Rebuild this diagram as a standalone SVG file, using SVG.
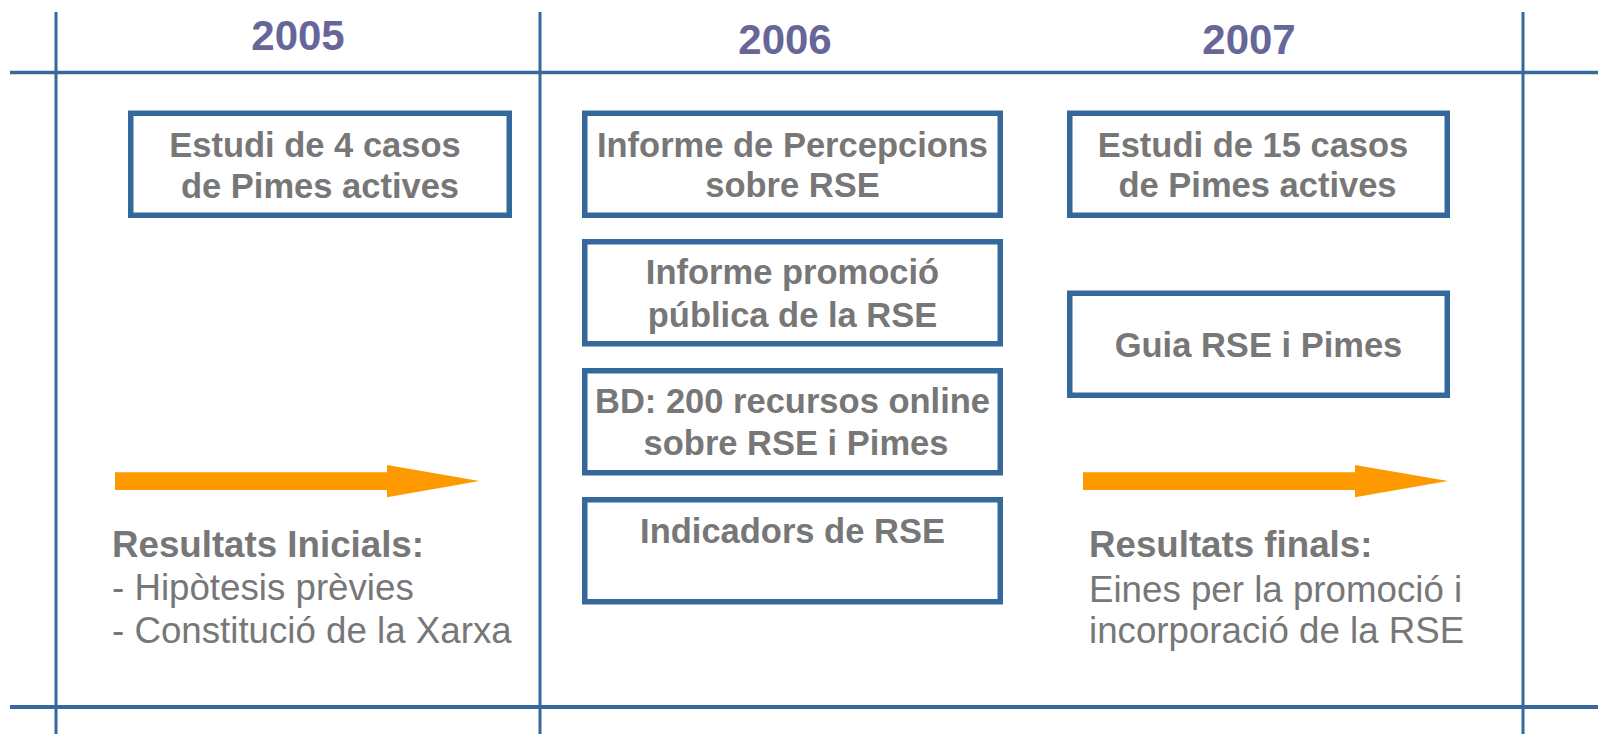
<svg xmlns="http://www.w3.org/2000/svg" width="1598" height="734" viewBox="0 0 1598 734">
<style>
.ln{stroke:#36699b;fill:none}
.box{fill:#ffffff;stroke:#36699b;stroke-width:5.5}
.yr{font-family:"Liberation Sans",Arial,sans-serif;font-weight:bold;font-size:42px;fill:#666699;text-anchor:middle}
.bt{font-family:"Liberation Sans",Arial,sans-serif;font-weight:bold;font-size:34.5px;fill:#777777;text-anchor:middle}
.rb{font-family:"Liberation Sans",Arial,sans-serif;font-weight:bold;font-size:36.7px;fill:#777777}
.rr{font-family:"Liberation Sans",Arial,sans-serif;font-size:36.7px;fill:#777777}
.arr{fill:#ff9900}
</style>
<rect width="1598" height="734" fill="#ffffff"/>
<g id="grid">
<line class="ln" x1="10" y1="72.5" x2="1598" y2="72.5" stroke-width="3.5"/>
<line class="ln" x1="10" y1="707" x2="1598" y2="707" stroke-width="4"/>
<line class="ln" x1="56" y1="12" x2="56" y2="734" stroke-width="3"/>
<line class="ln" x1="540" y1="12" x2="540" y2="734" stroke-width="3"/>
<line class="ln" x1="1523" y1="12" x2="1523" y2="734" stroke-width="3"/>
</g>
<g id="years">
<text class="yr" x="298" y="50">2005</text>
<text class="yr" x="785" y="54">2006</text>
<text class="yr" x="1249" y="54">2007</text>
</g>
<g id="n2005-estudi">
<rect class="box" x="130.75" y="113.25" width="378.5" height="102"/>
<text class="bt" x="315" y="157">Estudi de 4 casos</text>
<text class="bt" x="320" y="198">de Pimes actives</text>
</g>
<g id="n2006-percepcions">
<rect class="box" x="584.75" y="113.25" width="415.5" height="102"/>
<text class="bt" x="792.5" y="157">Informe de Percepcions</text>
<text class="bt" x="792.5" y="197">sobre RSE</text>
</g>
<g id="n2006-promocio">
<rect class="box" x="584.75" y="241.75" width="415.5" height="102"/>
<text class="bt" x="792.5" y="284">Informe promoció</text>
<text class="bt" x="792.5" y="326.5">pública de la RSE</text>
</g>
<g id="n2006-bd">
<rect class="box" x="584.75" y="370.75" width="415.5" height="102"/>
<text class="bt" x="792.5" y="413">BD: 200 recursos online</text>
<text class="bt" x="796" y="455">sobre RSE i Pimes</text>
</g>
<g id="n2006-indicadors">
<rect class="box" x="584.75" y="499.75" width="415.5" height="102"/>
<text class="bt" x="792.5" y="542.5">Indicadors de RSE</text>
</g>
<g id="n2007-estudi">
<rect class="box" x="1069.75" y="113.25" width="377.5" height="102"/>
<text class="bt" x="1253" y="157">Estudi de 15 casos</text>
<text class="bt" x="1257.5" y="197">de Pimes actives</text>
</g>
<g id="n2007-guia">
<rect class="box" x="1069.75" y="293.25" width="377.5" height="102"/>
<text class="bt" x="1258.5" y="356.5">Guia RSE i Pimes</text>
</g>
<g id="connectors">
<polygon class="arr" points="115,472.3 387,472.3 387,465 479.5,481 387,497.3 387,490 115,490"/>
<polygon class="arr" points="1083,472.3 1355,472.3 1355,465 1448,481 1355,497.3 1355,490 1083,490"/>
</g>
<g id="result-inicials">
<text class="rb" x="112" y="556.7">Resultats Inicials:</text>
<text class="rr" x="112" y="600">- Hipòtesis prèvies</text>
<text class="rr" x="112" y="643">- Constitució de la Xarxa</text>
</g>
<g id="result-finals">
<text class="rb" x="1089" y="556.7">Resultats finals:</text>
<text class="rr" x="1089" y="601.5">Eines per la promoció i</text>
<text class="rr" x="1089" y="643.3">incorporació de la RSE</text>
</g>
</svg>
